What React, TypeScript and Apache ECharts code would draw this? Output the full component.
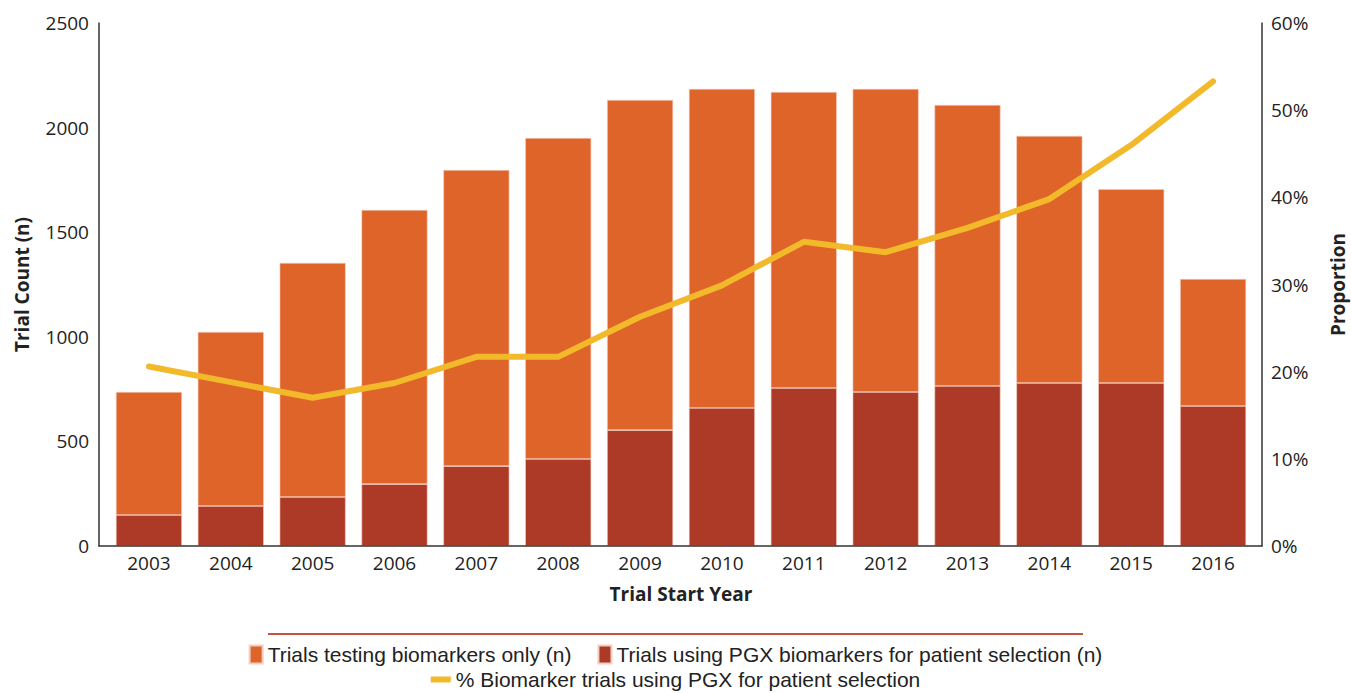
import React, { useEffect, useRef } from "react";
import * as echarts from "echarts";

const years = ["2003", "2004", "2005", "2006", "2007", "2008", "2009", "2010", "2011", "2012", "2013", "2014", "2015", "2016"];
const pgxTrials = [148, 191, 234, 296, 382, 416, 554, 660, 755, 736, 765, 779, 779, 669];
const biomarkerOnlyTrials = [588, 832, 1119, 1310, 1415, 1534, 1578, 1525, 1415, 1449, 1343, 1181, 927, 607];
const pgxPercent = [20.6, 18.8, 17.0, 18.7, 21.7, 21.7, 26.3, 29.9, 34.9, 33.7, 36.5, 39.8, 46.0, 53.3];

const NAME_ONLY = "Trials testing biomarkers only (n)";
const NAME_PGX = "Trials using PGX biomarkers for patient selection (n)";
const NAME_PCT = "% Biomarker trials using PGX for patient selection";

const TICK_FONT = "'Open Sans', 'Noto Sans', sans-serif";
const TITLE_FONT = "'Open Sans', 'Noto Sans', sans-serif";
const LEGEND_FONT = "'Liberation Sans Narrow', 'Liberation Sans', sans-serif";

export default function App() {
  const ref = useRef<HTMLDivElement>(null);
  useEffect(() => {
    if (!ref.current) return;
    const chart = echarts.init(ref.current, undefined, { renderer: "svg" });
    chart.setOption({
      animation: false,
      backgroundColor: "#ffffff",
      grid: { left: 108, right: 97, top: 23, bottom: 147, outerBoundsMode: "none", containLabel: false },
      legend: [
        {
          data: [NAME_ONLY, NAME_PGX],
          top: 644,
          left: "center",
          padding: 0,
          icon: "rect",
          itemWidth: 13,
          itemHeight: 18,
          itemGap: 26,
          textStyle: { fontFamily: LEGEND_FONT, fontSize: 21, color: "#222" },
        },
        {
          data: [NAME_PCT],
          top: 669,
          left: "center",
          padding: 0,
          icon: "rect",
          itemWidth: 20,
          itemHeight: 6,
          textStyle: { fontFamily: LEGEND_FONT, fontSize: 21, color: "#222" },
        },
      ],
      graphic: [
        {
          type: "line",
          shape: { x1: 268, y1: 634, x2: 1083, y2: 634 },
          style: { stroke: "#C4553F", lineWidth: 2 },
        },
        {
          type: "line",
          z: 100,
          shape: { x1: 98.5, y1: 546, x2: 1262.5, y2: 546 },
          style: { stroke: "#333", lineWidth: 1.5 },
        },
      ],
      xAxis: {
        type: "category",
        data: years,
        name: "Trial Start Year",
        nameLocation: "middle",
        nameGap: 38,
        nameTextStyle: { fontFamily: TITLE_FONT, fontWeight: "bold", fontSize: 19, color: "#222" },
        axisLine: { show: false },
        axisTick: { show: false },
        axisLabel: { fontFamily: TICK_FONT, fontSize: 19, color: "#222", margin: 7 },
      },
      yAxis: [
        {
          type: "value",
          min: 0,
          max: 2500,
          interval: 500,
          offset: 9,
          name: "Trial Count (n)",
          nameLocation: "middle",
          nameGap: 68,
          nameRotate: 90,
          nameTextStyle: { fontFamily: TITLE_FONT, fontWeight: "bold", fontSize: 19, color: "#222" },
          axisLine: { show: true, lineStyle: { color: "#333", width: 1.5 } },
          axisTick: { show: false },
          splitLine: { show: false },
          axisLabel: {
            fontFamily: TICK_FONT,
            fontSize: 19,
            color: "#222",
            margin: 10,
            formatter: (v: number) => String(v),
          },
        },
        {
          type: "value",
          min: 0,
          max: 60,
          interval: 10,
          offset: 8,
          name: "Proportion",
          nameLocation: "middle",
          nameGap: 66,
          nameRotate: 90,
          nameTextStyle: { fontFamily: TITLE_FONT, fontWeight: "bold", fontSize: 19, color: "#222" },
          axisLine: { show: true, lineStyle: { color: "#333", width: 1.5 } },
          axisTick: { show: false },
          splitLine: { show: false },
          axisLabel: { fontFamily: TICK_FONT, fontSize: 19, color: "#222", margin: 9, formatter: "{value}%" },
        },
      ],
      series: [
        {
          name: NAME_PGX,
          type: "bar",
          stack: "trials",
          data: pgxTrials,
          barWidth: 66,
          itemStyle: { color: "#AD3A27", borderColor: "#F3CDBF", borderWidth: 0.6 },
        },
        {
          name: NAME_ONLY,
          type: "bar",
          stack: "trials",
          data: biomarkerOnlyTrials,
          barWidth: 66,
          itemStyle: { color: "#DE6429", borderColor: "#F3CDBF", borderWidth: 0.6 },
        },
        {
          name: NAME_PCT,
          type: "line",
          yAxisIndex: 1,
          data: pgxPercent,
          showSymbol: false,
          symbol: "none",
          lineStyle: { color: "#F2B92B", width: 6, cap: "round", join: "round" },
          itemStyle: { color: "#F2B92B" },
        },
      ],
    });
    return () => chart.dispose();
  }, []);
  return (
    <div
      ref={ref}
      style={{ position: "fixed", left: 0, top: 0, width: 1351, height: 693, background: "#fff" }}
    />
  );
}
